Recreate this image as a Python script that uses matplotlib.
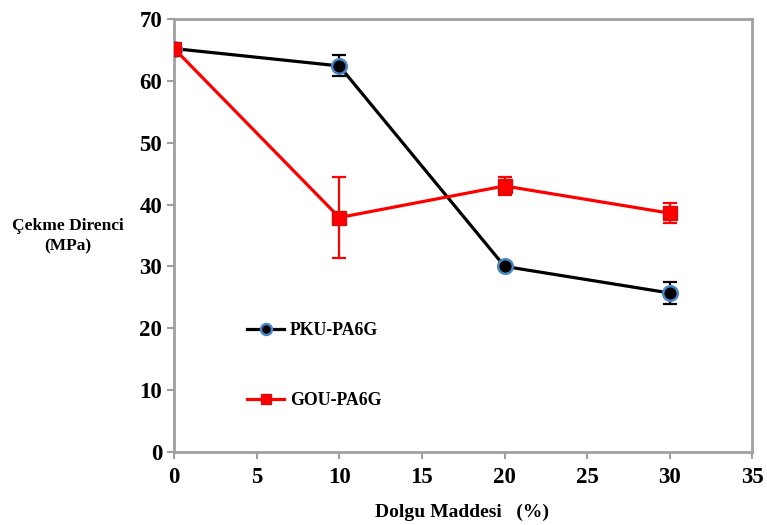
import matplotlib
matplotlib.use("Agg")
import matplotlib.pyplot as plt

plt.rcParams['font.family'] = ['Liberation Serif', 'DejaVu Serif']
plt.rcParams['font.weight'] = 'bold'

# tensile strength vs filler content
dolgu = [0, 10, 20, 30]
pku = [65.2, 62.4, 30.0, 25.7]
pku_err = [0.0, 1.7, 0.6, 1.8]
gou = [65.2, 37.9, 43.0, 38.6]
gou_err = [0.0, 6.5, 1.4, 1.6]

fig = plt.figure(figsize=(7.67, 5.25), dpi=100)
ax = fig.add_axes([0.227, 0.139, 0.754, 0.825])

ax.errorbar(dolgu, pku, yerr=pku_err, fmt='none', ecolor='black',
            elinewidth=1.6, capsize=5, capthick=1.6, zorder=2)
ax.errorbar(dolgu, gou, yerr=gou_err, fmt='none', ecolor='#ff0000',
            elinewidth=1.6, capsize=5, capthick=1.6, zorder=2)

l1, = ax.plot(dolgu, pku, color='black', lw=2.3, marker='o', ms=10.5,
              mfc='black', mec='#4a86c5', mew=1.8, zorder=3, label='PKU-PA6G')
l2, = ax.plot(dolgu, gou, color='#ff0000', lw=2.3, marker='s', ms=10.5,
              mfc='#ff0000', mec='#d01010', mew=1.0, zorder=4, label='GOU-PA6G')

ax.set_xlim(0, 35)
ax.set_ylim(0, 70)
ax.set_xticks(range(0, 36, 5))
ax.set_yticks(range(0, 71, 10))
ax.tick_params(axis='both', labelsize=16.5, color='#a0a0a0', width=1.5,
               length=5, direction='out')
ax.tick_params(axis='x', pad=6)
for s in ax.spines.values():
    s.set_color('#a0a0a0')
    s.set_linewidth(2)

fig.text(0.088, 0.55, 'Çekme Direnci\n(MPa)', ha='center', va='center',
         fontsize=12.5, fontweight='bold', linespacing=1.35)
fig.text(0.602, 0.025, 'Dolgu Maddesi   (%)', ha='center', va='center',
         fontsize=14, fontweight='bold')

fig.legend(handles=[l1, l2], loc='upper left', bbox_to_anchor=(0.322, 0.387),
           frameon=False, fontsize=12.8, handlelength=2.1, handletextpad=0.3,
           labelspacing=3.0, borderpad=0, borderaxespad=0, markerscale=0.75)

fig.savefig('out.png', dpi=100)
